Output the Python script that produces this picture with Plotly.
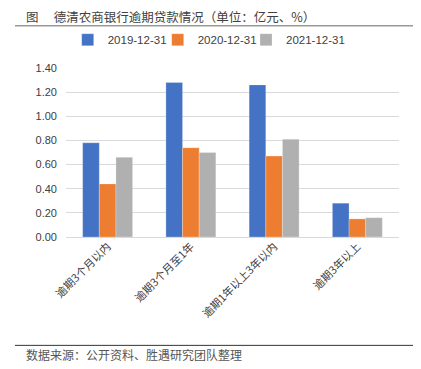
import plotly.graph_objects as go

categories = ["逾期3个月以内", "逾期3个月至1年", "逾期1年以上3年以内", "逾期3年以上"]
series_names = ["2019-12-31", "2020-12-31", "2021-12-31"]
v2019 = [0.78, 1.28, 1.26, 0.28]
v2020 = [0.44, 0.74, 0.67, 0.15]
v2021 = [0.66, 0.70, 0.81, 0.16]
tick_vals = [0, 0.2, 0.4, 0.6, 0.8, 1.0, 1.2, 1.4]
tick_text = ["0.00", "0.20", "0.40", "0.60", "0.80", "1.00", "1.20", "1.40"]
colors = ["#4472C4", "#ED7D31", "#B0B0B0"]

FONT = "Noto Sans CJK SC"
OFF = 8  # page body margin offset
W, H = 421 - OFF, 369 - OFF

# target positions in window pixels
top_w, bot_w, left_w, right_w = 68.3, 237.5, 66, 399
top_px, bot_px, left_px, right_px = top_w - OFF, bot_w - OFF, left_w - OFF, right_w - OFF
ph = bot_px - top_px
pw = right_px - left_px

def py(p):
    return (bot_px - (p - OFF)) / ph

def px(p):
    return ((p - OFF) - left_px) / pw

legend_names = ["legend", "legend2", "legend3"]
legend_text_x = [106.7, 196.7, 285]

fig = go.Figure()
for name, vals, c, lg in zip(series_names, [v2019, v2020, v2021], colors, legend_names):
    fig.add_trace(go.Bar(x=categories, y=vals, name=name, marker_color=c,
                         marker_line_color="rgba(255,255,255,0.5)", marker_line_width=0.5,
                         legend=lg))

legend_common = dict(orientation="h", yanchor="middle", xanchor="left",
                     font=dict(family="Liberation Sans, Arial", size=11.5, color="#404040"),
                     itemwidth=30, bgcolor="rgba(0,0,0,0)", borderwidth=0)

layout_legends = {}
for lg, tx in zip(legend_names, legend_text_x):
    layout_legends[lg] = dict(legend_common, x=px(tx - 39), y=py(40))

fig.update_layout(
    width=W, height=H,
    margin=dict(l=left_px, r=W - right_px, t=top_px, b=H - bot_px, pad=0, autoexpand=False),
    paper_bgcolor="white", plot_bgcolor="white",
    barmode="group", bargap=0.4, bargroupgap=0,
    font=dict(family=FONT, size=11, color="#595959"),
    showlegend=True,
    xaxis=dict(tickangle=-45, showgrid=False, showline=False, ticks="",
               tickfont=dict(family=FONT, size=11, color="#404040")),
    yaxis=dict(range=[0, 1.4], tickvals=tick_vals, ticktext=tick_text,
               showgrid=True, gridcolor="#D9D9D9", gridwidth=1, zeroline=True,
               zerolinecolor="#D9D9D9", zerolinewidth=1, showline=False, ticks="",
               tickfont=dict(family="Liberation Sans, Arial", size=11, color="#404040"),
               ticklabelstandoff=8),
    **layout_legends,
)

fig.add_annotation(text="图　 德清农商银行逾期贷款情况（单位：亿元、%）", xref="paper", yref="paper",
                   x=px(24), y=py(16.5), xanchor="left", yanchor="middle", showarrow=False,
                   font=dict(family=FONT, size=12.5, color="#404040"))
fig.add_annotation(text="数据来源：公开资料、胜遇研究团队整理", xref="paper", yref="paper",
                   x=px(24), y=py(355), xanchor="left", yanchor="middle", showarrow=False,
                   font=dict(family=FONT, size=12, color="#555555"))

fig.add_shape(type="line", xref="paper", yref="paper", x0=px(15), x1=px(421), y0=py(26), y1=py(26),
              line=dict(color="#999999", width=1.5))
fig.add_shape(type="line", xref="paper", yref="paper", x0=px(15), x1=px(421), y0=py(346), y1=py(346),
              line=dict(color="#333333", width=1))

fig.write_html("out.html")
